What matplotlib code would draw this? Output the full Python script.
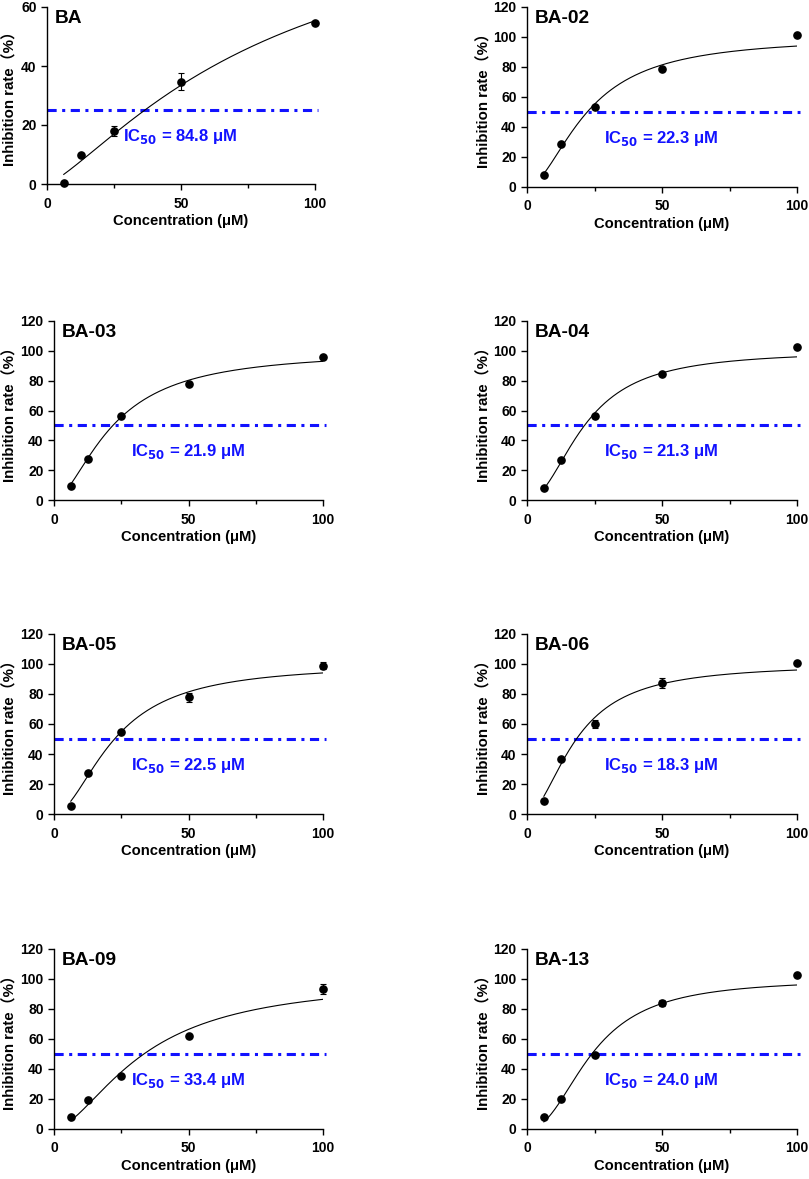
import numpy as np
import matplotlib
matplotlib.use("Agg")
import matplotlib.pyplot as plt

plt.rcParams['font.family'] = ['Liberation Sans', 'Noto Sans CJK SC', 'DejaVu Sans']
plt.rcParams['font.weight'] = 'bold'
plt.rcParams['axes.labelweight'] = 'bold'

# concentrations (uM)
conc = [6.25, 12.5, 25, 50, 100]

names = ["BA", "BA-02", "BA-03", "BA-04", "BA-05", "BA-06", "BA-09", "BA-13"]

# mean inhibition rate (%) per compound
rate_ba = [0.5, 10.0, 18.0, 34.7, 54.7]
rate_02 = [8.0, 28.5, 53.5, 78.5, 101.5]
rate_03 = [9.5, 27.5, 56.5, 78.0, 96.0]
rate_04 = [8.0, 26.5, 56.0, 84.5, 102.5]
rate_05 = [5.5, 27.5, 54.5, 78.0, 99.0]
rate_06 = [9.0, 37.0, 60.0, 87.5, 101.0]
rate_09 = [8.0, 19.5, 35.5, 62.0, 93.5]
rate_13 = [8.0, 20.0, 49.5, 84.0, 102.5]

# error bars (%)
err_ba = [0.0, 0.0, 1.6, 3.0, 0.0]
err_02 = [0.0, 0.0, 0.0, 0.0, 0.0]
err_03 = [0.0, 0.0, 0.0, 0.0, 0.0]
err_04 = [0.0, 0.0, 0.0, 0.0, 0.0]
err_05 = [0.0, 0.0, 0.0, 3.0, 2.5]
err_06 = [0.0, 0.0, 2.5, 3.5, 0.0]
err_09 = [0.0, 0.0, 0.0, 0.0, 3.5]
err_13 = [0.0, 0.0, 0.0, 2.0, 0.0]

# fitted curve parameters (IC50 as printed, top, hill slope)
ic50 = [84.8, 22.3, 21.9, 21.3, 22.5, 18.3, 33.4, 24.0]
top = [100, 100, 100, 100, 100, 100, 100, 100]
hill = [1.3, 1.83, 1.70, 2.05, 1.85, 1.87, 1.69, 2.23]

ref_line = [25, 50, 50, 50, 50, 50, 50, 50]
y_max = [60, 120, 120, 120, 120, 120, 120, 120]

rates = [rate_ba, rate_02, rate_03, rate_04, rate_05, rate_06, rate_09, rate_13]
errs = [err_ba, err_02, err_03, err_04, err_05, err_06, err_09, err_13]

W, H = 809, 1179
fig = plt.figure(figsize=(W / 100, H / 100), dpi=100)

# axes boxes in pixels
col_px = [(54, 323), (527, 797)]
row_px = [(7, 187), (321, 500), (634, 814), (949, 1129)]
ylab_px = [18, 491]
blue = "#1212ff"

for i, name in enumerate(names):
    r, c = divmod(i, 2)
    x0, x1 = col_px[c]
    yt, yb = row_px[r]
    if i == 0:
        x0, x1, yb = 47, 315, 184
    ax = fig.add_axes([x0 / W, 1 - yb / H, (x1 - x0) / W, (yb - yt) / H])

    xs = np.linspace(conc[0], conc[-1], 300)
    ys = top[i] / (1 + (ic50[i] / xs) ** hill[i])
    ax.plot(xs, ys, color="black", lw=0.8, zorder=3)

    eb = ax.errorbar(conc, rates[i], yerr=errs[i], fmt="o", color="black",
                     ms=5.2, elinewidth=0.8, capsize=2.2, capthick=0.8, zorder=4)
    for art in eb.lines[0:1] + tuple(eb.lines[1]) + tuple(eb.lines[2]):
        art.set_clip_on(False)

    ax.plot([0, 101], [ref_line[i], ref_line[i]], color=blue, lw=2.2,
            dashes=(3, 1.8, 1, 1.8), zorder=2, clip_on=False)

    ax.set_xlim(0, 100)
    ax.set_ylim(0, y_max[i])
    ax.set_xticks([0, 50, 100])
    ax.set_xticks([25, 75], minor=True)
    ax.set_yticks(np.arange(0, y_max[i] + 1, 20))
    for s in ["top", "right"]:
        ax.spines[s].set_visible(False)
    for s in ["left", "bottom"]:
        ax.spines[s].set_linewidth(1.0)
    ax.tick_params(which="major", length=4, width=1.0, labelsize=10, pad=3.5)
    ax.tick_params(axis="x", which="major", pad=5)
    ax.tick_params(which="minor", length=3, width=1.0)

    ax.set_ylabel("Inhibition rate（%）", fontsize=10.8)
    ax.yaxis.set_label_coords((ylab_px[c] - x0) / (x1 - x0), 0.5)
    ax.set_xlabel("Concentration (μM)", fontsize=10.6)
    ax.xaxis.set_label_coords(0.5, -30 / (yb - yt))

    ax.text(3, y_max[i] * 0.935, name, fontsize=13.8, fontweight="bold",
            ha="left", va="center")
    lab_y = 16 if i == 0 else 32.5
    ax.text(28.5, lab_y, "IC$_{50}$ = %.1f μM" % ic50[i], fontsize=12,
            fontweight="bold", color=blue, ha="left", va="center")

fig.savefig("out.png", dpi=100)
